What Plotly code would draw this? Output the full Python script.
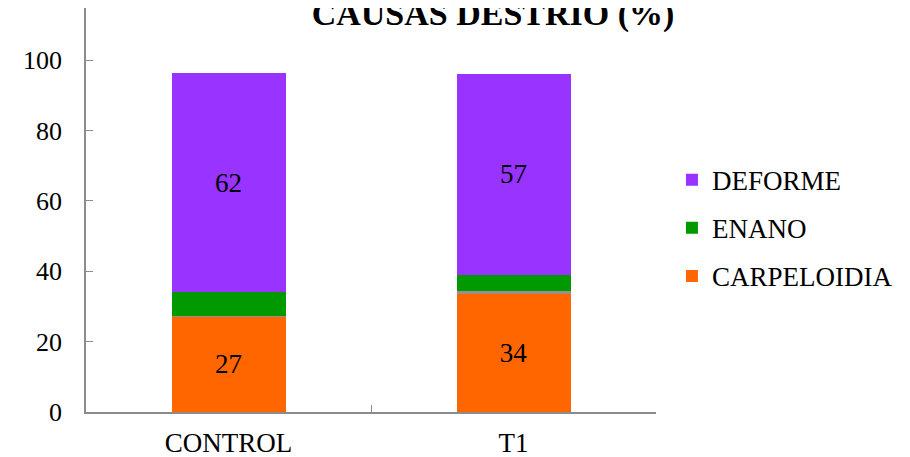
import plotly.graph_objects as go

categories = ["CONTROL", "T1"]
carpeloidia = [27.0, 33.6]
otros = [0.4, 0.8]
enano = [6.8, 4.6]
deforme = [62.0, 57.0]

y_ticks = [0, 20, 40, 60, 80, 100]

SERIF = "Liberation Serif, Times New Roman, serif"
AXIS_COLOR = "#8c8c8c"

fig = go.Figure()
fig.add_trace(go.Bar(
    x=categories, y=carpeloidia, name="CARPELOIDIA", marker_color="#FF6600",
    marker_line_width=0, texttemplate="%{y:.0f}", textposition="inside",
    insidetextanchor="middle", textangle=0, constraintext="none",
    textfont=dict(family=SERIF, size=27, color="black"),
    legendgroup="c", legendrank=3))
fig.add_trace(go.Bar(
    x=categories, y=otros, name="", marker_color="#9a8e88",
    marker_line_width=0, showlegend=False, hoverinfo="skip",
    legendgroup="o", legendrank=4))
fig.add_trace(go.Bar(
    x=categories, y=enano, name="ENANO", marker_color="#009900",
    marker_line_width=0, legendgroup="e", legendrank=2))
fig.add_trace(go.Bar(
    x=categories, y=deforme, name="DEFORME", marker_color="#9933FF",
    marker_line_width=0, texttemplate="%{y:.0f}", textposition="inside",
    insidetextanchor="middle", textangle=0, constraintext="none",
    textfont=dict(family=SERIF, size=27, color="black"),
    legendgroup="d", legendrank=1))

fig.update_layout(
    width=910, height=457,
    barmode="stack", bargap=0.6,
    paper_bgcolor="white", plot_bgcolor="white",
    margin=dict(l=78, r=262, t=0, b=53, autoexpand=False),
    title=dict(text="<b>CAUSAS DESTRIO (%)</b>", x=485/910, xanchor="center",
               y=1 - 5/457, yanchor="middle", yref="container",
               font=dict(family=SERIF, size=34, color="black")),
    legend=dict(x=1.028, xanchor="left", y=0.455, yanchor="middle",
                traceorder="grouped", tracegroupgap=10,
                font=dict(family=SERIF, size=27, color="black"),
                bgcolor="rgba(0,0,0,0)"),
    showlegend=True,
)
fig.update_xaxes(
    range=[-0.5, 1.5], showline=True, linecolor=AXIS_COLOR, linewidth=1.5,
    ticks="inside", tickson="boundaries", ticklen=7, tickcolor=AXIS_COLOR,
    showgrid=False, zeroline=False, automargin=False,
    tickfont=dict(family=SERIF, size=27, color="black"), ticklabelstandoff=6)
fig.update_yaxes(
    range=[0, 114.8], showline=True, linecolor=AXIS_COLOR, linewidth=1.5,
    ticks="inside", ticklen=7, tickcolor=AXIS_COLOR, tickvals=y_ticks,
    showgrid=False, zeroline=False, automargin=False,
    tickfont=dict(family=SERIF, size=26, color="black"), ticklabelstandoff=17)

fig.write_html("out.html")
